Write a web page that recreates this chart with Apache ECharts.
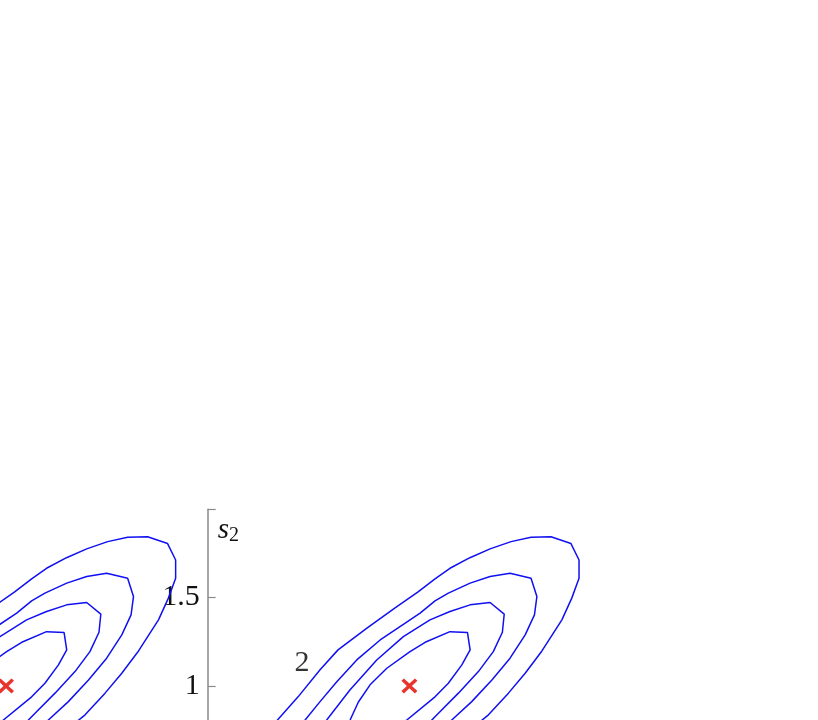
<!DOCTYPE html>
<html>
<head>
<meta charset="utf-8">
<script src="https://cdn.jsdelivr.net/npm/echarts@6/dist/echarts.min.js"></script>
<style>
html,body{margin:0;padding:0;background:#fff;}
#chart{width:818px;height:720px;}
</style>
</head>
<body>
<div id="chart"></div>
<script>
// Peak centres (s1, s2) marked with red crosses
const peakS1 = [-1, 1];
const peakS2 = [1, 1];

// Contours around a peak: [s1 offset from peak centre, s2]
const contour1 = [[-0.319,0.751],[-0.294,0.807],[-0.253,0.909],[-0.195,1.006],[-0.112,1.100],[0.003,1.194],[0.078,1.247],[0.201,1.307],[0.288,1.302],[0.301,1.204],[0.260,1.119],[0.193,1.015],[0.127,0.938],[-0.013,0.807],[-0.081,0.751]];
const contour2 = [[-0.452,0.751],[-0.410,0.807],[-0.295,0.977],[-0.162,1.147],[-0.030,1.279],[0.102,1.374],[0.201,1.421],[0.301,1.459],[0.400,1.472],[0.470,1.406],[0.461,1.304],[0.416,1.194],[0.342,1.081],[0.243,0.959],[0.144,0.845],[0.063,0.751]];
const contour3 = [[-0.557,0.751],[-0.517,0.807],[-0.443,0.911],[-0.360,1.024],[-0.261,1.147],[-0.145,1.260],[-0.030,1.349],[0.053,1.412],[0.127,1.481],[0.193,1.525],[0.301,1.582],[0.400,1.619],[0.499,1.638],[0.603,1.610],[0.632,1.506],[0.620,1.402],[0.574,1.289],[0.499,1.157],[0.409,1.034],[0.309,0.911],[0.210,0.807],[0.157,0.751]];
const contour4 = [[-0.700,0.751],[-0.654,0.807],[-0.552,0.938],[-0.443,1.091],[-0.354,1.204],[-0.209,1.328],[-0.071,1.442],[0.043,1.532],[0.127,1.606],[0.201,1.666],[0.300,1.726],[0.400,1.776],[0.504,1.817],[0.603,1.842],[0.702,1.845],[0.801,1.806],[0.841,1.713],[0.841,1.610],[0.805,1.497],[0.756,1.374],[0.657,1.198],[0.574,1.072],[0.491,0.959],[0.392,0.836],[0.301,0.751]];
const contours = [contour1, contour2, contour3, contour4];

// Axis ticks and annotation
const yTicks = [0.5, 1, 1.5, 2];
const annotation = {text: '2', s1: 0.4675, s2: 1.130};

const series = [];
peakS1.forEach(function (p) {
  contours.forEach(function (c) {
    series.push({
      type: 'line',
      data: c.map(function (pt) { return [p + pt[0], pt[1]]; }),
      showSymbol: false,
      symbol: 'none',
      lineStyle: {color: '#1010f2', width: 1.5},
      silent: true,
      animation: false,
      z: 2
    });
  });
});
series.push({
  type: 'scatter',
  data: peakS1.map(function (p, i) { return [p, peakS2[i]]; }),
  symbol: 'path://M2.5,0 L8,5.5 L13.5,0 L16,2.5 L10.5,8 L16,13.5 L13.5,16 L8,10.5 L2.5,16 L0,13.5 L5.5,8 L0,2.5 Z',
  symbolSize: [16, 15],
  clip: false,
  itemStyle: {color: '#e8342a', opacity: 1},
  silent: true,
  animation: false,
  z: 3
});
series.push({
  type: 'scatter',
  data: [[annotation.s1, annotation.s2]],
  symbolSize: 0,
  clip: false,
  label: {
    show: true,
    position: 'inside',
    formatter: annotation.text,
    fontFamily: 'Liberation Serif',
    fontSize: 30,
    color: '#000'
  },
  silent: true,
  animation: false
});

const chart = echarts.init(document.getElementById('chart'), null, {renderer: 'canvas'});
chart.setOption({
  backgroundColor: '#ffffff',
  animation: false,
  grid: {left: 0, width: 818, top: 509.3, height: 264.9, containLabel: false, outerBoundsMode: 'none'},
  xAxis: {
    type: 'value',
    min: -1.0298,
    max: 3.0258,
    show: false
  },
  yAxis: {
    type: 'value',
    position: 'left',
    offset: -207.7,
    min: yTicks[0],
    max: yTicks[yTicks.length - 1],
    interval: 0.5,
    axisLine: {show: true, onZero: false, lineStyle: {color: '#8a8a8a', width: 1.5}},
    axisTick: {show: true, inside: true, length: 8, lineStyle: {color: '#8a8a8a', width: 1.2}},
    axisLabel: {
      show: true,
      margin: 8,
      fontFamily: 'Liberation Serif',
      fontSize: 30,
      color: '#111',
      formatter: function (v) { return v === 2 ? '' : String(v); }
    },
    splitLine: {show: false},
    name: '{s|s}{sub|2}',
    nameLocation: 'end',
    nameGap: -8,
    nameTextStyle: {
      align: 'left',
      verticalAlign: 'top',
      padding: [0, 0, 0, 10],
      rich: {
        s: {fontFamily: 'Liberation Serif', fontStyle: 'italic', fontSize: 29, color: '#111', lineHeight: 28, verticalAlign: 'bottom'},
        sub: {fontFamily: 'Liberation Serif', fontSize: 20, color: '#111', lineHeight: 12, verticalAlign: 'bottom'}
      }
    }
  },
  series: series
});
</script>
</body>
</html>
